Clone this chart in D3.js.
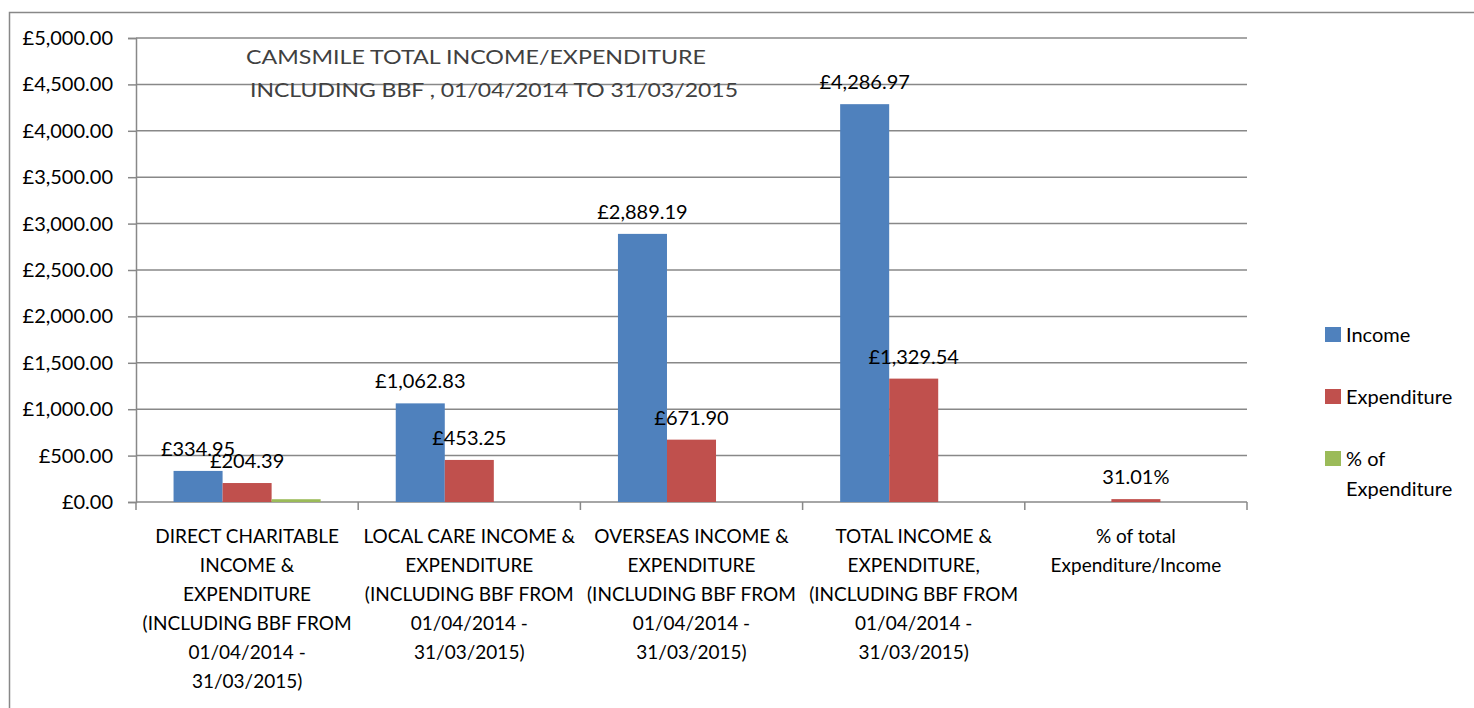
<!DOCTYPE html>
<html lang="en">
<head>
<meta charset="UTF-8">
<title>CAMSMILE Total Income/Expenditure</title>
<script src="https://d3js.org/d3.v7.min.js"></script>
<style>
    body { margin: 0; background: #fff; font-family: Lato, "Open Sans", sans-serif; }
    svg { display: block; }
</style>
</head>
<body>
<svg id="chart" width="1474" height="708"></svg>
<script>
// data
const categories = [
    ["DIRECT CHARITABLE", "INCOME &", "EXPENDITURE", "(INCLUDING BBF FROM", "01/04/2014 -", "31/03/2015)"],
    ["LOCAL CARE INCOME &", "EXPENDITURE", "(INCLUDING BBF FROM", "01/04/2014 -", "31/03/2015)"],
    ["OVERSEAS INCOME &", "EXPENDITURE", "(INCLUDING BBF FROM", "01/04/2014 -", "31/03/2015)"],
    ["TOTAL INCOME &", "EXPENDITURE,", "(INCLUDING BBF FROM", "01/04/2014 -", "31/03/2015)"],
    ["% of total", "Expenditure/Income"]
];
const seriesNames = ["Income", "Expenditure", "% of Expenditure"];
const income = [334.95, 1062.83, 2889.19, 4286.97, 0];
const expenditure = [204.39, 453.25, 671.90, 1329.54, 31.01];
const pctExpenditure = [30, 0, 0, 0, 0];
const yTicks = [0, 500, 1000, 1500, 2000, 2500, 3000, 3500, 4000, 4500, 5000];
const titleLines = ["CAMSMILE  TOTAL INCOME/EXPENDITURE", "INCLUDING BBF , 01/04/2014 TO 31/03/2015"];
const pctCategory = 4; // last category holds a percentage, not money

const colors = ["#4F81BD", "#C0504D", "#9BBB59"];
const gridColor = "#888888";

const svg = d3.select("#chart");

// outer chart border
svg.append("rect")
    .attr("x", 9.5).attr("y", 12.5)
    .attr("width", 1500).attr("height", 800)
    .attr("fill", "none").attr("stroke", gridColor).attr("stroke-width", 1.5);

const plot = { left: 136, right: 1247, top: 38, bottom: 502 };

const x0 = d3.scaleBand()
    .domain(d3.range(categories.length))
    .range([plot.left, plot.right])
    .paddingInner(0).paddingOuter(0);

const bw = x0.bandwidth();
const x1 = d3.scaleBand()
    .domain(d3.range(seriesNames.length))
    .range([bw * 0.169, bw * 0.831])
    .padding(0);

const y = d3.scaleLinear().domain([0, 5000]).range([plot.bottom, plot.top]);

// gridlines + y axis
const money = d3.format(",.2f");
const yAxis = d3.axisLeft(y)
    .tickValues(yTicks)
    .tickSize(8)
    .tickFormat(d => "£" + money(d));

const yg = svg.append("g")
    .attr("transform", `translate(${plot.left},0)`)
    .call(yAxis);
yg.select(".domain").attr("stroke", gridColor).attr("stroke-width", 1.5);
yg.selectAll(".tick line").attr("stroke", gridColor).attr("stroke-width", 1.5);
yg.selectAll(".tick text")
    .attr("x", -23)
    .attr("fill", "#000")
    .style("font-family", "Lato, sans-serif")
    .style("font-size", "20px");

svg.append("g").selectAll("line")
    .data(yTicks.filter(d => d > 0))
    .join("line")
    .attr("x1", plot.left).attr("x2", plot.right)
    .attr("y1", d => y(d)).attr("y2", d => y(d))
    .attr("stroke", gridColor).attr("stroke-width", 1.5);

// x axis
const xg = svg.append("g")
    .attr("transform", `translate(0,${plot.bottom})`);
xg.append("line")
    .attr("x1", plot.left).attr("x2", plot.right)
    .attr("stroke", gridColor).attr("stroke-width", 1.5);
xg.selectAll("line.tk")
    .data(d3.range(categories.length + 1))
    .join("line")
    .attr("class", "tk")
    .attr("x1", i => i < categories.length ? x0(i) : plot.right)
    .attr("x2", i => i < categories.length ? x0(i) : plot.right)
    .attr("y1", 0).attr("y2", 8)
    .attr("stroke", gridColor).attr("stroke-width", 1.5);

const catLabels = svg.append("g").selectAll("text")
    .data(categories)
    .join("text")
    .attr("text-anchor", "middle")
    .attr("fill", "#000")
    .style("font-size", "19px");
catLabels.each(function (lines, i) {
    d3.select(this).selectAll("tspan")
        .data(lines)
        .join("tspan")
        .attr("x", x0(i) + bw / 2)
        .attr("y", (d, j) => 543 + j * 29)
        .text(d => d);
});

// bars
const seriesData = [income, expenditure, pctExpenditure];
const barData = [];
seriesData.forEach((vals, s) => vals.forEach((v, c) => barData.push({ s, c, v })));

svg.append("g").selectAll("rect")
    .data(barData)
    .join("rect")
    .attr("x", d => x0(d.c) + x1(d.s))
    .attr("width", x1.bandwidth())
    .attr("y", d => y(d.v))
    .attr("height", d => y(0) - y(d.v))
    .attr("fill", d => colors[d.s]);

// data labels (income and expenditure only)
svg.append("g").selectAll("text")
    .data(barData.filter(d => d.s < 2 && d.v > 0))
    .join("text")
    .attr("x", d => x0(d.c) + x1(d.s) + x1.bandwidth() / 2)
    .attr("y", d => y(d.v) - 15)
    .attr("text-anchor", "middle")
    .attr("fill", "#000")
    .style("font-size", "20px")
    .text(d => d.c === pctCategory ? d3.format(".2f")(d.v) + "%" : "£" + money(d.v));

// title
svg.append("text")
    .attr("x", 246).attr("y", 64)
    .attr("fill", "#404040")
    .attr("textLength", 460)
    .attr("lengthAdjust", "spacingAndGlyphs")
    .style("font-size", "20px")
    .text(titleLines[0]);
svg.append("text")
    .attr("x", 250).attr("y", 97)
    .attr("fill", "#404040")
    .attr("textLength", 488)
    .attr("lengthAdjust", "spacingAndGlyphs")
    .style("font-size", "20px")
    .text(titleLines[1]);

// legend
const legendY = [335, 397, 459];
const lg = svg.append("g");
seriesNames.forEach((name, i) => {
    lg.append("rect")
        .attr("x", 1325).attr("y", legendY[i] - 8)
        .attr("width", 16).attr("height", 15)
        .attr("fill", colors[i]);
    const words = name === "% of Expenditure" ? ["% of", "Expenditure"] : [name];
    const t = lg.append("text")
        .attr("fill", "#000")
        .style("font-size", "20px");
    words.forEach((w, j) => {
        t.append("tspan")
            .attr("x", 1346)
            .attr("y", legendY[i] + 7 + j * 30)
            .text(w);
    });
});
</script>
</body>
</html>
